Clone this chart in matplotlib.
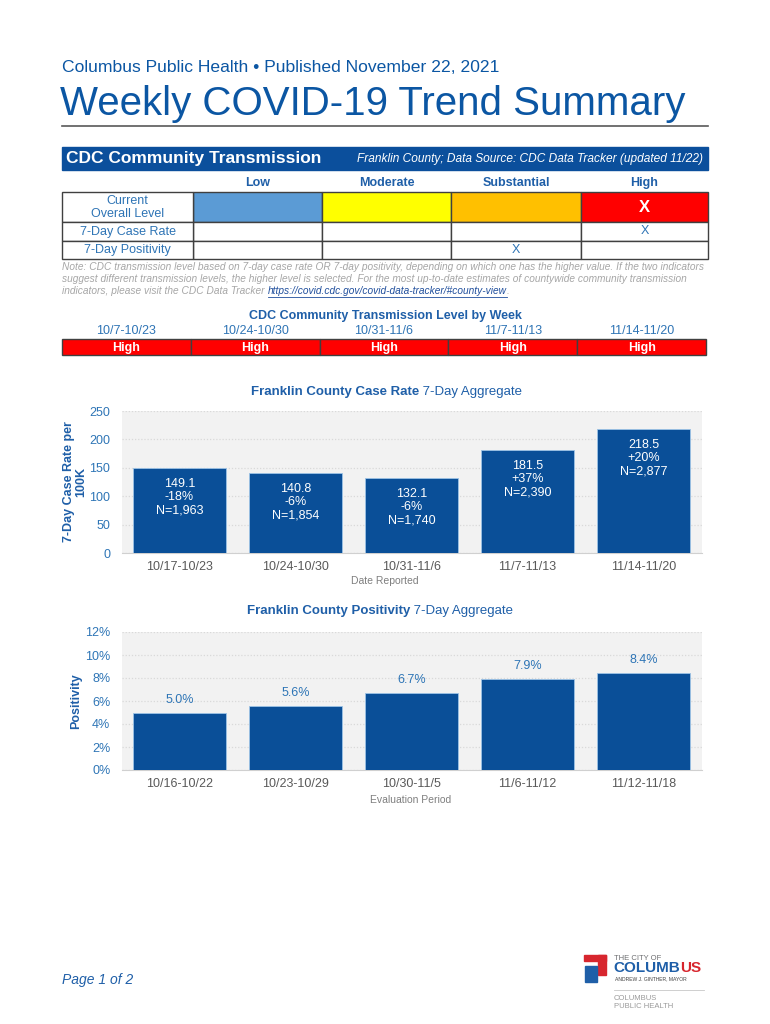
import matplotlib
matplotlib.use("Agg")
import matplotlib.pyplot as plt
from matplotlib.patches import Rectangle
from matplotlib.ticker import FuncFormatter

plt.rcParams['font.family'] = ['Liberation Sans', 'DejaVu Sans']

# ---------------- data ----------------
levels = ['Low', 'Moderate', 'Substantial', 'High']
level_colors = ['#5B9BD5', '#FFFF00', '#FFC000', '#FF0000']
overall_level = 'High'
case_rate_level = 'High'
positivity_level = 'Substantial'

transmission_weeks = ['10/7-10/23', '10/24-10/30', '10/31-11/6', '11/7-11/13', '11/14-11/20']
transmission_by_week = ['High', 'High', 'High', 'High', 'High']

case_weeks = ['10/17-10/23', '10/24-10/30', '10/31-11/6', '11/7-11/13', '11/14-11/20']
case_rate = [149.1, 140.8, 132.1, 181.5, 218.5]
case_change = ['-18%', '-6%', '-6%', '+37%', '+20%']
case_n = ['1,963', '1,854', '1,740', '2,390', '2,877']

pos_periods = ['10/16-10/22', '10/23-10/29', '10/30-11/5', '11/6-11/12', '11/12-11/18']
positivity = [5.0, 5.6, 6.7, 7.9, 8.4]

# ---------------- style ----------------
BLUE = '#0B56A3'
BANNER = '#0B4F9C'
BAR = '#0A4F98'
TICKBLUE = '#2E75B6'
GRAY = '#595959'
W, H = 770, 1024

fig = plt.figure(figsize=(W / 100, H / 100), dpi=100)
bg = fig.add_axes([0, 0, 1, 1])
bg.set_xlim(0, W)
bg.set_ylim(H, 0)
bg.axis('off')


def rect(x0, y0, x1, y1):
    return [x0 / W, 1 - y1 / H, (x1 - x0) / W, (y1 - y0) / H]


# ---------------- header ----------------
bg.text(62, 68, 'Columbus Public Health \u2022 Published November 22, 2021',
        fontsize=12.6, color=BLUE, va='center', ha='left')
bg.text(60, 104, 'Weekly COVID-19 Trend Summary', fontsize=29, color=BLUE,
        va='center', ha='left')
bg.plot([62, 708], [126, 126], color='#595959', lw=1.2)

# banner
bg.add_patch(Rectangle((62, 147), 646, 23, color=BANNER, zorder=1))
bg.text(66, 158.5, 'CDC Community Transmission', fontsize=12.5, fontweight='bold',
        color='white', va='center', ha='left', zorder=2)
bg.text(703, 159, 'Franklin County; Data Source: CDC Data Tracker (updated 11/22)',
        fontsize=8.6, style='italic', color='white', va='center', ha='right', zorder=2)

# table
col_x = [62, 193, 322, 451, 581, 708]
row_y = [192, 222, 241, 259]
for j, lev in enumerate(levels):
    cx = (col_x[j + 1] + col_x[j + 2]) / 2
    bg.text(cx, 183, lev, fontsize=9, fontweight='bold', color='#1F5FA8',
            ha='center', va='center')

row_labels = ['Current\nOverall Level', '7-Day Case Rate', '7-Day Positivity']
row_marks = [overall_level, case_rate_level, positivity_level]
for r in range(3):
    y0, y1 = row_y[r], row_y[r + 1]
    for j in range(4):
        fc = level_colors[j] if r == 0 else 'white'
        bg.add_patch(Rectangle((col_x[j + 1], y0), col_x[j + 2] - col_x[j + 1], y1 - y0,
                               facecolor=fc, edgecolor='#404040', lw=1.0, zorder=2))
    bg.add_patch(Rectangle((col_x[0], y0), col_x[1] - col_x[0], y1 - y0,
                           facecolor='white', edgecolor='#404040', lw=1.0, zorder=2))
    bg.text((col_x[0] + col_x[1]) / 2, (y0 + y1) / 2 + 0.5, row_labels[r], fontsize=9,
            color='#2E74B5', ha='center', va='center', linespacing=1.2, zorder=3)
    j = levels.index(row_marks[r])
    cx = (col_x[j + 1] + col_x[j + 2]) / 2
    if r == 0:
        bg.text(cx, (y0 + y1) / 2, 'X', fontsize=12, fontweight='bold', color='white',
                ha='center', va='center', zorder=3)
    else:
        bg.text(cx, (y0 + y1) / 2, 'X', fontsize=9, color='#2E74B5',
                ha='center', va='center', zorder=3)

# note
NOTE = '#A6A6A6'
NFS = 7.25
note_lines = [
    'Note: CDC transmission level based on 7-day case rate OR 7-day positivity, depending on which one has the higher value. If the two indicators',
    'suggest different transmission levels, the higher level is selected. For the most up-to-date estimates of countywide community transmission',
]
for k, ln in enumerate(note_lines):
    bg.text(62, 266.5 + 12.5 * k, ln, fontsize=NFS, style='italic', color=NOTE,
            ha='left', va='center')
t1 = bg.text(62, 291.5, 'indicators, please visit the CDC Data Tracker', fontsize=NFS,
             style='italic', color=NOTE, ha='left', va='center')
fig.canvas.draw()
rend = fig.canvas.get_renderer()
inv = bg.transData.inverted()
bb = t1.get_window_extent(rend)
x_link = inv.transform((bb.x1, 0))[0] + 3
t2 = bg.text(x_link, 291.5, 'https://covid.cdc.gov/covid-data-tracker/#county-view',
             fontsize=NFS, style='italic', color='#1F4E9C', ha='left', va='center')
bb2 = t2.get_window_extent(rend)
x_end = inv.transform((bb2.x1, 0))[0]
bg.plot([x_link, x_end], [297, 297], color='#1F4E9C', lw=0.6)
bg.text(x_end + 0.5, 291.5, '.', fontsize=NFS, style='italic', color=NOTE, ha='left', va='center')

# transmission level by week
bg.text(385, 316, 'CDC Community Transmission Level by Week', fontsize=9,
        fontweight='bold', color='#1F5FA8', ha='center', va='center')
wx0, wx1 = 62, 706
cw = (wx1 - wx0) / len(transmission_weeks)
lvl_col = dict(zip(levels, level_colors))
for i, (wk, lv) in enumerate(zip(transmission_weeks, transmission_by_week)):
    x0 = wx0 + i * cw
    bg.text(x0 + cw / 2, 331, wk, fontsize=9, color='#2E74B5', ha='center', va='center')
    bg.add_patch(Rectangle((x0, 339), cw, 16, facecolor=lvl_col[lv], edgecolor='#404040',
                           lw=1.0, zorder=2))
    bg.text(x0 + cw / 2, 347.5, lv, fontsize=9, fontweight='bold', color='white',
            ha='center', va='center', zorder=3)


def style_axes(ax):
    ax.set_facecolor('#F2F2F2')
    for s in ['top', 'right', 'left']:
        ax.spines[s].set_visible(False)
    ax.spines['bottom'].set_color('#D0D0D0')
    ax.tick_params(axis='both', length=0)
    ax.tick_params(axis='y', labelcolor=TICKBLUE, labelsize=9, pad=8)
    ax.tick_params(axis='x', labelcolor=GRAY, labelsize=9, pad=6)
    ax.yaxis.grid(True, color='#D9D9D9', linestyle=(0, (1, 1.5)), lw=0.9)
    ax.set_axisbelow(True)
    ax.set_xlim(-0.5, 4.5)


def two_part_title(xsplit, y, bold, normal):
    bg.text(xsplit, y, bold, fontsize=9.5, fontweight='bold', color='#1F5FA8',
            ha='right', va='center')
    bg.text(xsplit, y, ' ' + normal, fontsize=9.5, color='#1F5FA8', ha='left', va='center')


# ---------------- case rate chart ----------------
ax1 = fig.add_axes(rect(121.5, 411, 701.5, 553))
style_axes(ax1)
xs = list(range(len(case_weeks)))
ax1.bar(xs, case_rate, width=0.8, color=BAR, edgecolor='#9DC3E6', lw=0.6, zorder=3)
ax1.set_ylim(0, 250)
ax1.set_yticks([0, 50, 100, 150, 200, 250])
ax1.set_xticks(xs)
ax1.set_xticklabels(case_weeks)
for i, v in enumerate(case_rate):
    ax1.annotate(f'{v}\n{case_change[i]}\nN={case_n[i]}', xy=(i, v), xytext=(0, -7),
                 textcoords='offset points', ha='center', va='top', color='white',
                 fontsize=9, linespacing=1.15, zorder=4)
two_part_title(419, 392, 'Franklin County Case Rate', '7-Day Aggregate')
bg.text(385, 581, 'Date Reported', fontsize=7.5, color='#7F7F7F', ha='center', va='center')
bg.text(75, 482, '7-Day Case Rate per\n100K', fontsize=9, fontweight='bold', color='#1F5FA8',
        rotation=90, ha='center', va='center', multialignment='center', linespacing=1.0)

# ---------------- positivity chart ----------------
ax2 = fig.add_axes(rect(121.5, 632, 701.5, 770))
style_axes(ax2)
ax2.bar(xs, positivity, width=0.8, color=BAR, edgecolor='#9DC3E6', lw=0.6, zorder=3)
ax2.set_ylim(0, 12)
ax2.set_yticks([0, 2, 4, 6, 8, 10, 12])
ax2.yaxis.set_major_formatter(FuncFormatter(lambda v, p: f'{v:.0f}%'))
ax2.set_xticks(xs)
ax2.set_xticklabels(pos_periods)
for i, v in enumerate(positivity):
    ax2.annotate(f'{v:.1f}%', xy=(i, v), xytext=(0, 5), textcoords='offset points',
                 ha='center', va='bottom', color=TICKBLUE, fontsize=9, zorder=4)
two_part_title(410, 611, 'Franklin County Positivity', '7-Day Aggregate')
bg.text(411, 800, 'Evaluation Period', fontsize=7.5, color='#7F7F7F', ha='center', va='center')
bg.text(76, 701, 'Positivity', fontsize=9, fontweight='bold', color='#1F5FA8',
        rotation=90, ha='center', va='center')

# ---------------- footer ----------------
bg.text(62, 980, 'Page 1 of 2', fontsize=10, style='italic', color='#1F5FA8',
        ha='left', va='center')
# logo approximation
bg.add_patch(Rectangle((584, 955), 22, 6, color='#D7262E', zorder=2))
bg.add_patch(Rectangle((598, 955), 8, 20, color='#D7262E', zorder=2))
bg.add_patch(Rectangle((585, 966), 12, 16, color='#1F5FA8', zorder=2))
bg.text(614, 958, 'THE CITY OF', fontsize=5.5, color='#6D6E71', ha='left', va='center')
tc = bg.text(613, 968.5, 'COLUMB', fontsize=11, fontweight='bold', color='#1F5FA8',
             ha='left', va='center')
bbc = tc.get_window_extent(rend)
x_us = inv.transform((bbc.x1, 0))[0]
bg.text(x_us, 968.5, 'US', fontsize=11, fontweight='bold', color='#D7262E',
        ha='left', va='center')
bg.text(615, 979, 'ANDREW J. GINTHER, MAYOR', fontsize=3.6, color='#404040',
        ha='left', va='center')
bg.plot([614, 704], [990, 990], color='#C8C8C8', lw=0.6)
bg.text(614, 998, 'COLUMBUS', fontsize=5.5, color='#9A9A9A', ha='left', va='center')
bg.text(614, 1007, 'PUBLIC HEALTH', fontsize=5.5, color='#9A9A9A', ha='left', va='center')

fig.savefig('out.png', dpi=100)
